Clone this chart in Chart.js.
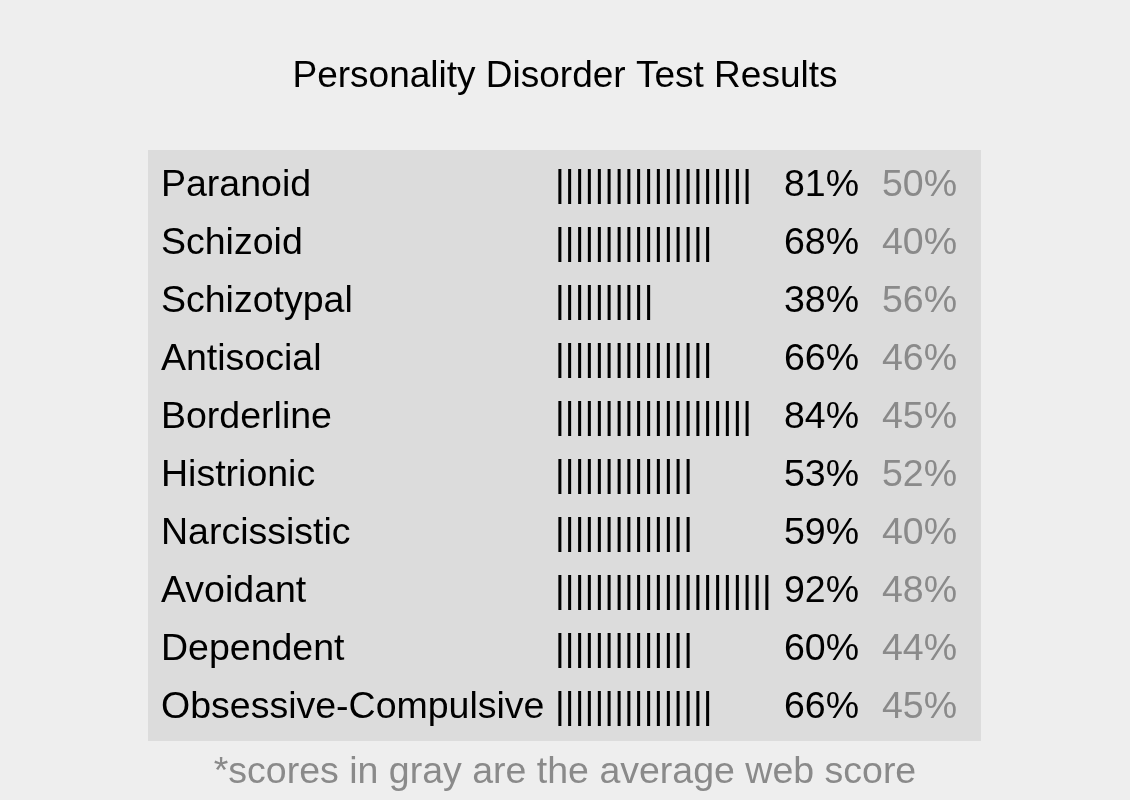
<!DOCTYPE html>
<html>
<head>
<meta charset="utf-8">
<script src="https://cdn.jsdelivr.net/npm/chart.js@4/dist/chart.umd.min.js"></script>
<style>
  html, body { margin: 0; padding: 0; background: #eeeeee; }
  canvas { display: block; }
</style>
</head>
<body>
<canvas id="results" width="1130" height="800"></canvas>
<script>
const disorders = ['Paranoid', 'Schizoid', 'Schizotypal', 'Antisocial', 'Borderline',
  'Histrionic', 'Narcissistic', 'Avoidant', 'Dependent', 'Obsessive-Compulsive'];
const scores = [81, 68, 38, 66, 84, 53, 59, 92, 60, 66];
const webAverages = [50, 40, 56, 46, 45, 52, 40, 48, 44, 45];
const barTicks = [20, 16, 10, 16, 20, 14, 14, 22, 14, 16]; // number of "|" drawn per row

const FONT = '"Liberation Sans", Arial, sans-serif';
const TEXT_SIZE = 37.5;
const GRAY = '#8a8a8a';

// gray panel behind the table
const panelPlugin = {
  id: 'panel',
  beforeDraw(chart) {
    const { ctx, chartArea, scales } = chart;
    const left = scales.y.left - 13;
    const top = chartArea.top - 6.5;
    const right = chartArea.right + 12;
    const bottom = chartArea.bottom + 4.5;
    ctx.save();
    ctx.fillStyle = '#dcdcdc';
    ctx.fillRect(left, top, right - left, bottom - top);
    ctx.restore();
  }
};

// draws each bar as a row of "|" characters plus the two percentage columns
const pipeBarsPlugin = {
  id: 'pipeBars',
  afterDatasetsDraw(chart) {
    const { ctx, chartArea, scales } = chart;
    const data = chart.data.datasets[0].data;
    ctx.save();
    ctx.font = `${TEXT_SIZE}px ${FONT}`;
    ctx.textBaseline = 'middle';
    ctx.textAlign = 'left';
    data.forEach((count, i) => {
      const y = scales.y.getPixelForValue(i);
      ctx.fillStyle = '#000';
      for (let k = 0; k < count; k++) {
        ctx.fillText('|', scales.x.getPixelForValue(k), y);
      }
      ctx.fillText(`${scores[i]}%`, chartArea.left + 229, y);
      ctx.fillStyle = GRAY;
      ctx.fillText(`${webAverages[i]}%`, chartArea.left + 327, y);
    });
    ctx.restore();
  }
};

new Chart(document.getElementById('results'), {
  type: 'bar',
  data: {
    labels: disorders,
    datasets: [{
      label: 'Score',
      data: barTicks,
      backgroundColor: 'rgba(0,0,0,0)',
      borderWidth: 0
    }]
  },
  options: {
    indexAxis: 'y',
    responsive: false,
    animation: false,
    layout: {
      padding: { left: 161, right: 161, top: 0, bottom: 5 }
    },
    scales: {
      x: {
        display: false,
        min: 0,
        max: 42
      },
      y: {
        grid: { display: false },
        border: { display: false },
        ticks: {
          autoSkip: false,
          crossAlign: 'far',
          padding: 0,
          color: '#000',
          font: { family: FONT, size: TEXT_SIZE }
        },
        afterFit(scale) {
          scale.width = 394;
        }
      }
    },
    plugins: {
      legend: { display: false },
      tooltip: { enabled: false },
      title: {
        display: true,
        text: 'Personality Disorder Test Results',
        color: '#000',
        font: { family: FONT, size: 37, weight: 'normal' },
        padding: { top: 54.5, bottom: 57.6 }
      },
      subtitle: {
        display: true,
        position: 'bottom',
        text: '*scores in gray are the average web score',
        color: GRAY,
        font: { family: FONT, size: TEXT_SIZE },
        padding: { top: 13.5, bottom: 0 }
      }
    }
  },
  plugins: [panelPlugin, pipeBarsPlugin]
});
</script>
</body>
</html>
